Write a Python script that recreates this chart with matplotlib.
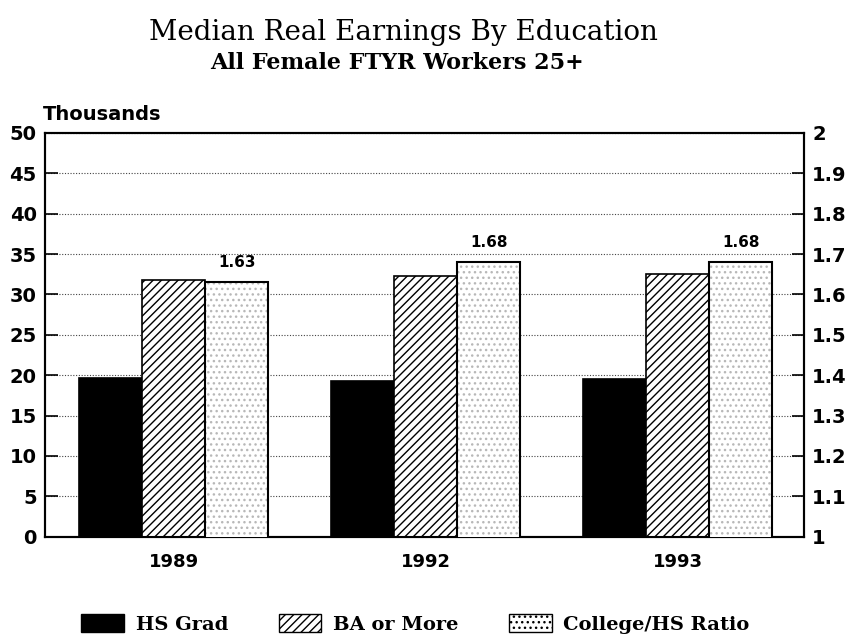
import matplotlib
matplotlib.use("Agg")
import matplotlib.pyplot as plt
from matplotlib.patches import Patch
import numpy as np

years = ["1989", "1992", "1993"]
hs_grad = [19.7, 19.3, 19.5]
ba_more = [31.8, 32.3, 32.5]
ratio = [1.63, 1.68, 1.68]
ratio_labels = ["1.63", "1.68", "1.68"]

plt.rcParams["hatch.linewidth"] = 1.0

fig = plt.figure(figsize=(8.48, 6.42), dpi=100)
ax = fig.add_axes([0.053, 0.164, 0.895, 0.629])
ax2 = ax.twinx()

x = np.arange(len(years))
w = 0.25

ax.bar(x - w, hs_grad, w, color="black", edgecolor="black", linewidth=1.2, zorder=3)
ax.bar(x, ba_more, w, color="white", edgecolor="black", hatch="////", linewidth=1.2, zorder=3)
ax2.bar(x + w, ratio, w, color="white", edgecolor="#b8b8b8", hatch="...", linewidth=0, zorder=3)
ax2.bar(x + w, ratio, w, color="none", edgecolor="black", linewidth=1.5, zorder=4)

for xi, r, lab in zip(x, ratio, ratio_labels):
    ax2.text(xi + w, r + 0.03, lab, ha="center", va="bottom",
             fontsize=11, fontweight="bold", family="DejaVu Sans")

ax.set_xlim(-0.51, 2.5)
ax.set_ylim(0, 50)
ax2.set_ylim(1, 2)

ax.set_yticks(range(0, 51, 5))
ax2.set_yticks([1, 1.1, 1.2, 1.3, 1.4, 1.5, 1.6, 1.7, 1.8, 1.9, 2])
ax2.set_yticklabels(["1", "1.1", "1.2", "1.3", "1.4", "1.5", "1.6", "1.7", "1.8", "1.9", "2"])
ax.set_xticks(x)
ax.set_xticklabels(years)

ax.yaxis.grid(True, linestyle=(0, (1, 1.5)), color="#444444", linewidth=0.8, zorder=0)
ax.set_axisbelow(True)

ax.tick_params(axis="y", direction="in", length=9, width=1.2, labelsize=14, pad=6)
ax2.tick_params(axis="y", direction="in", length=9, width=1.2, labelsize=14, pad=6)
ax.tick_params(axis="x", length=0, labelsize=13, pad=12)
for lab in ax.get_yticklabels() + ax2.get_yticklabels() + ax.get_xticklabels():
    lab.set_fontweight("bold")

for a in (ax, ax2):
    for s in a.spines.values():
        s.set_linewidth(1.5)

fig.text(0.05, 0.821, "Thousands", fontsize=14, fontweight="bold", va="center")
fig.text(0.476, 0.95, "Median Real Earnings By Education", ha="center", va="center",
         fontsize=20, family="DejaVu Serif")
fig.text(0.468, 0.902, "All Female FTYR Workers 25+", ha="center", va="center",
         fontsize=16, fontweight="bold", family="DejaVu Serif")

handles = [
    Patch(facecolor="black", edgecolor="black", label="HS Grad"),
    Patch(facecolor="white", edgecolor="black", hatch="////", label="BA or More"),
    Patch(facecolor="white", edgecolor="black", hatch="...", label="College/HS Ratio"),
]
fig.legend(handles=handles, loc="center", bbox_to_anchor=(0.49, 0.028), ncol=3,
           frameon=False, handlelength=2.2, handleheight=1.0, handletextpad=0.6,
           columnspacing=2.6,
           prop={"family": "DejaVu Serif", "size": 14, "weight": "bold"})

fig.savefig("out.png", dpi=100)
